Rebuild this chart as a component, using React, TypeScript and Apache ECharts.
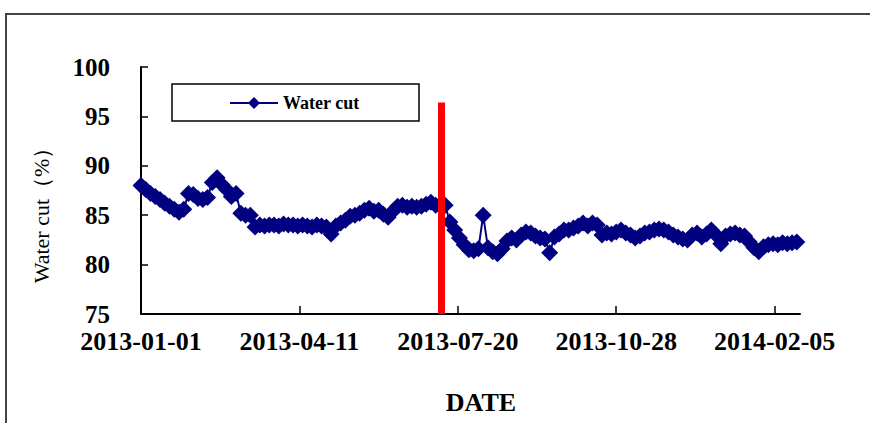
import React, { useEffect, useRef } from "react";
import * as echarts from "echarts";

// Water cut (%) sampled every 3 days starting 2013-01-01
const sampleStepDays = 3;
const waterCut = [
  88.0, 87.6, 87.2, 86.9, 86.6, 86.2, 85.9, 85.6, 85.3, 85.6,
  87.2, 87.1, 86.7, 86.6, 86.8, 88.3, 88.8, 88.1, 87.6, 86.9,
  87.2, 85.2, 85.0, 85.0, 83.8, 84.0, 83.9, 84.0, 84.0, 83.9,
  84.1, 84.0, 84.0, 83.9, 84.0, 83.9, 83.8, 84.0, 83.9, 83.8,
  83.1, 83.9, 84.2, 84.5, 84.9, 85.0, 85.2, 85.5, 85.7, 85.4,
  85.5, 85.1, 84.8, 85.4, 85.9, 86.0, 85.8, 85.9, 85.8, 85.9,
  86.1, 86.3, 86.0, 85.9, 86.0, 84.3, 83.5, 82.7, 82.0, 81.5,
  81.4, 81.6, 85.0, 81.7, 81.3, 81.1, 81.6, 82.4, 82.7, 82.5,
  83.0, 83.3, 83.2, 82.9, 82.7, 82.6, 81.2, 82.8, 83.1, 83.5,
  83.5, 83.7, 83.9, 84.2, 83.9, 84.2, 84.0, 83.0, 83.2, 83.1,
  83.3, 83.5, 83.2, 83.0, 82.7, 82.9, 83.2, 83.3, 83.5, 83.6,
  83.5, 83.3, 83.0, 82.8, 82.6, 82.5, 83.0, 83.2, 82.8, 83.1,
  83.5, 83.0, 82.1, 82.9, 83.1, 83.2, 83.0, 82.9, 82.3, 81.7,
  81.3, 81.8, 82.0, 82.1, 82.0, 82.2, 82.1, 82.2, 82.3,
];

const xTickValues = [0, 100, 200, 300, 400];
const xTickLabels = ["2013-01-01", "2013-04-11", "2013-07-20", "2013-10-28", "2014-02-05"];
const xMaxDay = 416;

const yMin = 75;
const yMax = 100;
const yStep = 5;

// vertical red marker (day offset, top value)
const markerDay = 189.6;
const markerTop = 96.4;

const SERIF = "Liberation Serif";

export default function App() {
  const ref = useRef<HTMLDivElement>(null);
  useEffect(() => {
    if (!ref.current) return;
    const chart = echarts.init(ref.current, undefined, { renderer: "svg" });
    const data = waterCut.map((v, i) => [i * sampleStepDays, v]);
    chart.setOption({
      animation: false,
      backgroundColor: "#ffffff",
      textStyle: { fontFamily: SERIF },
      grid: { left: 141, right: 70, top: 67, bottom: 109, containLabel: false },
      legend: {
        data: ["Water cut"],
        left: 229,
        top: 94,
        padding: 0,
        itemWidth: 48,
        itemHeight: 15,
        textStyle: { fontFamily: SERIF, fontWeight: "bold", fontSize: 18, color: "#000" },
      },
      xAxis: {
        type: "value",
        min: 0,
        max: xMaxDay,
        interval: 100,
        splitLine: { show: false },
        axisLine: { show: true, lineStyle: { color: "#000", width: 2 } },
        axisTick: {
          show: true,
          inside: true,
          length: 8,
          customValues: xTickValues,
          lineStyle: { color: "#000", width: 1.5 },
        },
        axisLabel: {
          customValues: xTickValues,
          formatter: (v: number) => {
            const idx = xTickValues.indexOf(Math.round(v));
            return idx >= 0 ? xTickLabels[idx] : "";
          },
          margin: 14,
          fontFamily: SERIF,
          fontWeight: "bold",
          fontSize: 26,
          color: "#000",
        },
      },
      yAxis: {
        type: "value",
        min: yMin,
        max: yMax,
        interval: yStep,
        splitLine: { show: false },
        axisLine: { show: true, lineStyle: { color: "#000", width: 2 } },
        axisTick: { show: true, inside: true, length: 7, lineStyle: { color: "#000", width: 1.5 } },
        axisLabel: {
          margin: 31,
          fontFamily: SERIF,
          fontWeight: "bold",
          fontSize: 25,
          color: "#000",
        },
      },
      graphic: [
        {
          type: "rect",
          shape: { x: 6, y: 14, width: 1000, height: 600 },
          style: { fill: "none", stroke: "#444", lineWidth: 2 },
          silent: true,
        },
        {
          type: "rect",
          shape: { x: 172, y: 84, width: 247, height: 37 },
          style: { fill: "none", stroke: "#000", lineWidth: 1.5 },
          silent: true,
        },
        {
          type: "text",
          x: 41,
          y: 210,
          rotation: Math.PI / 2,
          style: {
            text: "Water cut（%）",
            fontFamily: SERIF,
            fontSize: 22,
            fill: "#000",
            textAlign: "center",
            textVerticalAlign: "middle",
          },
          silent: true,
        },
        {
          type: "text",
          x: 481,
          y: 402,
          style: {
            text: "DATE",
            fontFamily: SERIF,
            fontWeight: "bold",
            fontSize: 26,
            fill: "#000",
            textAlign: "center",
            textVerticalAlign: "middle",
          },
          silent: true,
        },
      ],
      series: [
        {
          type: "line",
          name: "Water cut",
          data,
          symbol: "diamond",
          symbolSize: 17,
          showSymbol: true,
          showAllSymbol: true,
          color: "#000080",
          itemStyle: { color: "#000080" },
          lineStyle: { color: "#000080", width: 2 },
          markLine: {
            silent: true,
            symbol: "none",
            label: { show: false },
            lineStyle: { color: "#ff0000", width: 7, type: "solid" },
            data: [[{ coord: [markerDay, yMin] }, { coord: [markerDay, markerTop] }]],
          },
        },
      ],
    });
    return () => chart.dispose();
  }, []);
  return (
    <div
      ref={ref}
      style={{ position: "absolute", left: 0, top: 0, width: 870, height: 423 }}
    />
  );
}
